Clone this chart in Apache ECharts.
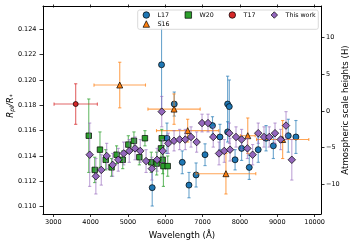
<!DOCTYPE html>
<html><head><meta charset="utf-8">
<script src="https://cdn.jsdelivr.net/npm/echarts@6/dist/echarts.min.js"></script>
<style>html,body{margin:0;padding:0;background:#fff}#c{width:356px;height:243px}</style>
</head><body><div id="c"></div>
<script>
// ---- data ----
const l17Wave = [5900, 5650, 6045, 6240, 6455, 6635, 6825, 7065, 7265, 7465, 7670, 7715, 7670, 7870, 8045, 8250, 8490, 8700, 8895, 9295, 9500];
const l17Val  = [0.1212, 0.1115, 0.1154, 0.1181, 0.1135, 0.1117, 0.1125, 0.1141, 0.1164, 0.1155, 0.1181, 0.1179, 0.1159, 0.1137, 0.1146, 0.1131, 0.1145, 0.1154, 0.1148, 0.1156, 0.1155];
const l17XErr = [50, 50, 50, 50, 50, 50, 50, 50, 50, 50, 50, 50, 50, 50, 50, 50, 50, 50, 50, 50, 50];
const l17YErr = [0.0035, 0.00145, 0.0012, 0.00095, 0.0009, 0.001, 0.00095, 0.00086, 0.0007, 0.001, 0.0022, 0.0021, 0.0008, 0.0008, 0.00095, 0.00095, 0.001, 0.001, 0.001, 0.0013, 0.0013];

const s16Wave = [4780, 6235, 6600, 7625, 8210, 9145];
const s16Val  = [0.1196, 0.1177, 0.1160, 0.1126, 0.1156, 0.1153];
const s16XErr = [690, 700, 835, 800, 200, 700];
const s16YErr = [0.0018, 0.0012, 0.0009, 0.0016, 0.0014, 0.0015];

const w20Wave = [3950, 4110, 4250, 4405, 4560, 4695, 4860, 5010, 5160, 5305, 5455, 5625, 5770, 5905, 5885, 5930, 5950, 6065];
const w20Val  = [0.1156, 0.1129, 0.1145, 0.1137, 0.1131, 0.1141, 0.1137, 0.1149, 0.1152, 0.1139, 0.1154, 0.1135, 0.1134, 0.1154, 0.1146, 0.1137, 0.1132, 0.1132];
const w20YErr = [0.0029, 0.0010, 0.0014, 0.0008, 0.0007, 0.0007, 0.0007, 0.0007, 0.0007, 0.0006, 0.0006, 0.0008, 0.0009, 0.0007, 0.0009, 0.0011, 0.0016, 0.0008];

const t17Wave = [3600];
const t17Val  = [0.1181];
const t17XErr = [580];
const t17YErr = [0.0016];

const twWave = [3975, 4140, 4285, 4430, 4590, 4740, 4885, 5035, 5190, 5330, 5485, 5640, 5780, 5905, 5930, 6080, 6235, 6385, 6535, 6690, 6840, 6985, 7145, 7285, 7440, 7580, 7735, 7715, 7895, 8045, 8200, 8340, 8490, 8645, 8785, 8940, 9090, 9235, 9390];
const twVal  = [0.1141, 0.1124, 0.1129, 0.1140, 0.1133, 0.1137, 0.1142, 0.1144, 0.1146, 0.1144, 0.1136, 0.1130, 0.1137, 0.1175, 0.1144, 0.1150, 0.1152, 0.1153, 0.1153, 0.1155, 0.1151, 0.1166, 0.1166, 0.1155, 0.1142, 0.1144, 0.1145, 0.1158, 0.1155, 0.1153, 0.1146, 0.1141, 0.1158, 0.1155, 0.1155, 0.1158, 0.1153, 0.1164, 0.1137];
const twYErr = [0.0025, 0.0014, 0.0012, 0.001, 0.0009, 0.0009, 0.0009, 0.0009, 0.0009, 0.0009, 0.0009, 0.0009, 0.0009, 0.0012, 0.0009, 0.0008, 0.0008, 0.0008, 0.0008, 0.0008, 0.0008, 0.0007, 0.0007, 0.0008, 0.0009, 0.0009, 0.0009, 0.0008, 0.0008, 0.0008, 0.0008, 0.0008, 0.0008, 0.0008, 0.0008, 0.0008, 0.0008, 0.0011, 0.0016];

const xTicks = [3000, 4000, 5000, 6000, 7000, 8000, 9000, 10000];
const yTicks = [0.110, 0.112, 0.114, 0.116, 0.118, 0.120, 0.122, 0.124];
const hTicks = [-10, -5, 0, 5, 10];

// ---- helpers ----
const FONT = 'DejaVu Sans';
const X_MIN = 2724, X_MAX = 10172;
const Y_MIN = 0.10942, Y_MAX = 0.12584;
const H_MIN = -14.03, H_MAX = 14.31;

function rows(w, v, xe, ye) {
  return w.map((x, i) => [x, v[i], xe ? xe[i] : 0, ye ? ye[i] : 0]);
}
function errRender(color) {
  const cap = 1.6;
  return function (params, api) {
    const x = api.value(0), y = api.value(1), xe = api.value(2), ye = api.value(3);
    const c = api.coord([x, y]);
    const st = { stroke: color, lineWidth: 1.1, fill: null };
    const ch = [];
    if (ye > 0) {
      const t = api.coord([x, y + ye])[1], b = api.coord([x, y - ye])[1];
      ch.push({ type: 'line', shape: { x1: c[0], y1: t, x2: c[0], y2: b }, style: st });
      ch.push({ type: 'line', shape: { x1: c[0] - cap, y1: t, x2: c[0] + cap, y2: t }, style: st });
      ch.push({ type: 'line', shape: { x1: c[0] - cap, y1: b, x2: c[0] + cap, y2: b }, style: st });
    }
    if (xe > 0) {
      const l = api.coord([x - xe, y])[0], r = api.coord([x + xe, y])[0];
      ch.push({ type: 'line', shape: { x1: l, y1: c[1], x2: r, y2: c[1] }, style: st });
      ch.push({ type: 'line', shape: { x1: l, y1: c[1] - cap, x2: l, y2: c[1] + cap }, style: st });
      ch.push({ type: 'line', shape: { x1: r, y1: c[1] - cap, x2: r, y2: c[1] + cap }, style: st });
    }
    return { type: 'group', children: ch };
  };
}
function errSeries(id, data, color, z) {
  return { type: 'custom', id: id, renderItem: errRender(color), data: data, z: z,
    encode: { x: 0, y: 1 }, silent: true, clip: true, animation: false };
}
function markSeries(name, data, symbol, size, color, z) {
  return { type: 'scatter', name: name, data: data.map(d => [d[0], d[1]]), symbol: symbol, symbolSize: size, z: z,
    itemStyle: { color: color, borderColor: '#000', borderWidth: 0.7, opacity: 1 }, animation: false };
}

const dL17 = rows(l17Wave, l17Val, l17XErr, l17YErr);
const dS16 = rows(s16Wave, s16Val, s16XErr, s16YErr);
const dW20 = rows(w20Wave, w20Val, null, w20YErr);
const dT17 = rows(t17Wave, t17Val, t17XErr, t17YErr);
const dTW  = rows(twWave, twVal, null, twYErr);

const chart = echarts.init(document.getElementById('c'), null, { renderer: 'canvas' });
const axisLine = { show: true, onZero: false, lineStyle: { color: '#000', width: 1 } };
const legendBase = { orient: 'horizontal', padding: 0, itemWidth: 6.5, itemHeight: 6.5, itemGap: 0, z: 110,
  itemStyle: { borderColor: '#000', borderWidth: 0.7 },
  textStyle: { fontFamily: FONT, fontSize: 6.3, color: '#000', padding: [0, 0, 0, 3] }, selectedMode: false };

chart.setOption({
  animation: false,
  grid: { left: 43, right: 35, top: 6, bottom: 29, containLabel: false, outerBoundsMode: 'none' },
  xAxis: [
    { type: 'value', min: X_MIN, max: X_MAX, position: 'bottom',
      name: 'Wavelength (Å)', nameLocation: 'middle', nameGap: 13,
      nameTextStyle: { fontFamily: FONT, fontSize: 8.6, color: '#000' },
      axisLine: axisLine, splitLine: { show: false },
      axisTick: { show: true, inside: false, length: 3, customValues: xTicks, lineStyle: { color: '#000', width: 0.8 } },
      axisLabel: { show: true, customValues: xTicks, margin: 5, fontFamily: FONT, fontSize: 6.5, color: '#000',
        formatter: v => String(v) } },
    { type: 'value', min: X_MIN, max: X_MAX, position: 'top',
      axisLine: axisLine, splitLine: { show: false },
      axisTick: { show: true, inside: false, length: 1.5, customValues: xTicks, lineStyle: { color: '#000', width: 0.8 } },
      axisLabel: { show: false } },
    { type: 'value', min: X_MIN, max: X_MAX, position: 'top',
      axisLine: { show: false, onZero: false }, splitLine: { show: false },
      axisTick: { show: true, inside: true, length: 1.5, customValues: xTicks, lineStyle: { color: '#000', width: 0.8 } },
      axisLabel: { show: false } }
  ],
  yAxis: [
    { type: 'value', min: Y_MIN, max: Y_MAX, position: 'left',
      axisLine: axisLine, splitLine: { show: false },
      axisTick: { show: true, inside: false, length: 3.5, customValues: yTicks, lineStyle: { color: '#000', width: 0.8 } },
      axisLabel: { show: true, customValues: yTicks, margin: 6.5, fontFamily: FONT, fontSize: 6.5, color: '#000',
        formatter: v => v.toFixed(3) } },
    { type: 'value', min: H_MIN, max: H_MAX, position: 'right',
      axisLine: axisLine, splitLine: { show: false },
      axisTick: { show: true, inside: false, length: 3.5, customValues: hTicks, lineStyle: { color: '#000', width: 0.8 } },
      axisLabel: { show: true, customValues: hTicks, margin: 5, fontFamily: FONT, fontSize: 6.5, color: '#000',
        formatter: v => (v < 0 ? '\u2212' + Math.abs(v) : String(v)) } }
  ],
  graphic: [
    { type: 'rect', z: 100, shape: { x: 137.7, y: 10, width: 180.6, height: 19.3, r: 2 },
      style: { fill: 'rgba(255,255,255,0.85)', stroke: '#d0d0d0', lineWidth: 0.8 } },
    { type: 'text', z: 100, x: 346, y: 110, rotation: Math.PI / 2,
      style: { text: 'Atmospheric scale heights (H)', fontFamily: FONT, fontSize: 8.6, fill: '#000',
        align: 'center', verticalAlign: 'middle' } },
    { type: 'text', z: 100, x: 11, y: 106, rotation: Math.PI / 2,
      style: { text: '{i|R}{s|pl}{i|/R}{s|*}', align: 'center', verticalAlign: 'middle',
        rich: { i: { fontSize: 8.6, fontStyle: 'italic', fontFamily: FONT, fill: '#000', verticalAlign: 'bottom' },
                s: { fontSize: 6, fontStyle: 'italic', fontFamily: FONT, fill: '#000', verticalAlign: 'bottom', padding: [0, 0, 0, 0] } } } }
  ],
  legend: [
    Object.assign({}, legendBase, { data: ['L17'], left: 142.7, top: 11.4 }),
    Object.assign({}, legendBase, { data: ['W20'], left: 184.7, top: 11.4 }),
    Object.assign({}, legendBase, { data: ['T17'], left: 228.7, top: 11.4 }),
    Object.assign({}, legendBase, { data: ['This work'], left: 270.7, top: 11.4 }),
    Object.assign({}, legendBase, { data: ['S16'], left: 142.7, top: 20.4 })
  ],
  series: [
    errSeries('eL17', dL17, 'rgba(31,119,180,0.65)', 2),
    markSeries('L17', dL17, 'circle', 6, '#1f77b4', 3),
    errSeries('eS16', dS16, 'rgba(255,127,14,0.7)', 4),
    markSeries('S16', dS16, 'triangle', 6, '#ff7f0e', 5),
    errSeries('eW20', dW20, 'rgba(44,160,44,0.7)', 6),
    markSeries('W20', dW20, 'rect', 5.5, '#2ca02c', 7),
    errSeries('eT17', dT17, 'rgba(214,39,40,0.7)', 8),
    markSeries('T17', dT17, 'circle', 5, '#d62728', 9),
    errSeries('eTW', dTW, 'rgba(148,103,189,0.6)', 10),
    markSeries('This work', dTW, 'diamond', 7.5, '#9467bd', 11)
  ]
});
</script>
</body></html>
